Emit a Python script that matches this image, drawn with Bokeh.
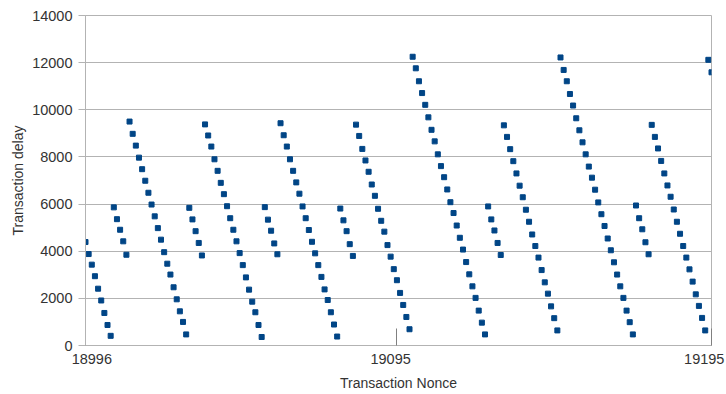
from bokeh.plotting import figure
from bokeh.models import FixedTicker, ColumnDataSource, LinearAxis
from bokeh.embed import file_html
from bokeh.resources import INLINE

# Transaction delay per nonce, read run by run (each run is a descending sawtooth)
run_01 = [4390, 3880, 3430, 2940, 2410, 1910, 1380, 870, 410]
run_02 = [5860, 5360, 4910, 4420, 3850]
run_03 = [9500, 8980, 8480, 7970, 7480, 6990, 6480, 5980, 5480, 4980, 4490, 3960,
          3470, 3010, 2470, 1960, 1450, 1000, 470]
run_04 = [5840, 5350, 4850, 4350, 3820]
run_05 = [9380, 8910, 8440, 7900, 7410, 6900, 6420, 5910, 5400, 4910, 4420, 3920,
          3410, 2890, 2370, 1860, 1410, 870, 360]
run_06 = [5870, 5340, 4870, 4330, 3870]
run_07 = [9430, 8920, 8440, 7900, 7410, 6920, 6440, 5900, 5400, 4900, 4400, 3910,
          3410, 2910, 2380, 1930, 1410, 890, 380]
run_08 = [5810, 5310, 4850, 4300, 3800]
run_09 = [9370, 8890, 8340, 7850, 7370, 6830, 6350, 5800, 5290, 4830, 4260, 3770,
          3240, 2770, 2230, 1720, 1210, 690]
run_10 = [12250, 11760, 11210, 10710, 10210, 9680, 9150, 8660, 8110, 7610, 7140, 6620,
          6080, 5620, 5090, 4570, 4070, 3540, 3020, 2510, 2020, 1480, 970, 470]
run_11 = [5900, 5350, 4880, 4350, 3840]
run_12 = [9340, 8850, 8330, 7820, 7300, 6780, 6290, 5760, 5250, 4710, 4220, 3730,
          3200, 2680, 2200, 1660, 1160, 640]
run_13 = [12220, 11690, 11210, 10670, 10180, 9640, 9130, 8620, 8110, 7590, 7120, 6610,
          6070, 5570, 5070, 4540, 4040, 3530, 3010, 2510, 2020, 1480, 990, 470]
run_14 = [5940, 5400, 4930, 4380, 3870]
run_15 = [9360, 8850, 8360, 7830, 7300, 6790, 6310, 5770, 5250, 4740, 4220, 3730,
          3230, 2710, 2170, 1680, 1170, 640]
run_16 = [12120, 11590]

runs = [run_01, run_02, run_03, run_04, run_05, run_06, run_07, run_08,
        run_09, run_10, run_11, run_12, run_13, run_14, run_15, run_16]
delay = [v for r in runs for v in r]
first_nonce = 18996
nonce = list(range(first_nonce, first_nonce + len(delay)))

x_ticks = [18996, 19095, 19195]
x_tick_labels = ["18996", "19095", "19195"]
y_ticks = [0, 2000, 4000, 6000, 8000, 10000, 12000, 14000]

FONT = "Liberation Sans"
TXT = "#333333"
GRID = "#b3b3b3"

src = ColumnDataSource(dict(nonce=nonce, delay=delay))

p = figure(width=726, height=394, x_range=(18996, 19195), y_range=(0, 14000),
           output_backend="svg", toolbar_location=None,
           min_border_left=85, min_border_right=15, min_border_top=15, min_border_bottom=49)
p.background_fill_color = "white"
p.border_fill_color = "white"
p.outline_line_color = GRID

p.xgrid.visible = False
p.ygrid.grid_line_color = GRID
p.ygrid.ticker = FixedTicker(ticks=y_ticks)

# y axis
p.yaxis.ticker = FixedTicker(ticks=y_ticks)
p.yaxis.axis_line_color = GRID
p.yaxis.major_tick_line_color = GRID
p.yaxis.major_tick_out = 7
p.yaxis.major_tick_in = 0
p.yaxis.minor_tick_line_color = None
p.yaxis.major_label_standoff = 6
p.yaxis.major_label_text_font = FONT
p.yaxis.major_label_text_font_size = "14.5px"
p.yaxis.major_label_text_color = TXT
p.yaxis.axis_label = "Transaction delay"
p.yaxis.axis_label_text_font = FONT
p.yaxis.axis_label_text_font_size = "14px"
p.yaxis.axis_label_text_font_style = "normal"
p.yaxis.axis_label_text_color = TXT
p.yaxis.axis_label_standoff = 3

# x axis: tick marks at the true tick values (labels carried by the second axis)
xa = p.xaxis[0]
xa.ticker = FixedTicker(ticks=x_ticks)
xa.axis_line_color = GRID
xa.major_tick_line_color = "#808080"
xa.major_tick_in = 17
xa.major_tick_out = 0
xa.minor_tick_line_color = None
xa.major_label_text_color = None
xa.major_label_standoff = 0

# label axis: LibreOffice nudges the end labels inward, emulate with small shifts
label_shift = [2.0, -2.0, -2.3]
label_pos = [t + s for t, s in zip(x_ticks, label_shift)]
xl = LinearAxis(ticker=FixedTicker(ticks=label_pos),
                major_label_overrides={pos: lab for pos, lab in zip(label_pos, x_tick_labels)})
xl.axis_line_color = None
xl.major_tick_line_color = None
xl.minor_tick_line_color = None
xl.major_tick_out = 0
xl.major_tick_in = 0
xl.major_label_standoff = 8
xl.major_label_text_font = FONT
xl.major_label_text_font_size = "14.5px"
xl.major_label_text_color = TXT
xl.axis_label = "Transaction Nonce"
xl.axis_label_text_font = FONT
xl.axis_label_text_font_size = "14px"
xl.axis_label_text_font_style = "normal"
xl.axis_label_text_color = TXT
xl.axis_label_standoff = 8
p.add_layout(xl, "below")

p.scatter(x="nonce", y="delay", source=src, marker="square", size=5,
          fill_color="#004586", line_color="#004586")

open("out.html", "w").write(file_html(p, INLINE))
